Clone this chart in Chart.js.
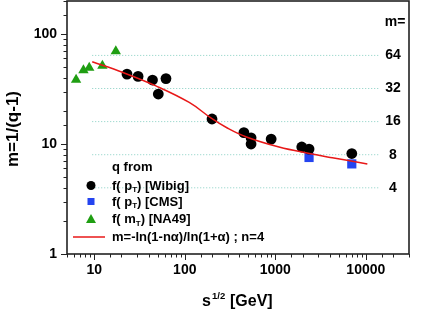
<!DOCTYPE html>
<html>
<head>
<meta charset="utf-8">
<script src="https://cdn.jsdelivr.net/npm/chart.js@4.4.1/dist/chart.umd.min.js"></script>
<style>
  html, body { margin: 0; padding: 0; background: #fff; }
  #wrap { width: 436px; height: 326px; }
</style>
</head>
<body>
<div id="wrap"><canvas id="chart" width="436" height="326"></canvas></div>
<script>
// sqrt(s) in GeV, m = 1/(q-1)
const wibigX = [23, 30.5, 44, 51, 62, 200, 450, 540, 540, 900, 1960, 2360, 7000];
const wibigM = [43.3, 41.2, 38.2, 28.5, 39.4, 16.9, 12.7, 11.4, 10.0, 11.1, 9.4, 9.0, 8.2];
const cmsX = [2360, 7000];
const cmsM = [7.55, 6.6];
const na49X = [6.3, 7.6, 8.8, 12.3, 17.3];
const na49M = [38.5, 47, 49.5, 51.5, 70];
// fitted curve
const curveX = [9.5, 20.4, 48, 112, 196, 295, 480, 1100, 2380, 4270, 10400];
const curveM = [56, 45, 33.8, 23.9, 17.2, 14.0, 11.6, 9.4, 8.2, 7.5, 6.6];
// m levels marked on the right
const mLevels = [4, 8, 16, 32, 64];
const guideRange = [9.5, 14000];
const xTickLabels = [10, 100, 1000, 10000];
const yTickLabels = [1, 10, 100];

const pts = (xs, ys) => xs.map((x, i) => ({ x: x, y: ys[i] }));
const FONT = '"Liberation Sans", Arial, sans-serif';

const guideSets = mLevels.map(m => ({
  data: pts(guideRange, [m, m]),
  showLine: true,
  borderColor: '#86cfc2',
  borderWidth: 1,
  borderDash: [1, 2],
  pointRadius: 0,
  order: 5
}));

const noPad = s => { s.paddingTop = 0; s.paddingBottom = 0; s.paddingLeft = 0; s.paddingRight = 0; };

const extras = {
  id: 'extras',
  afterDraw(chart) {
    const ctx = chart.ctx;
    const a = chart.chartArea;
    const xs = chart.scales.x, ys = chart.scales.y;
    ctx.save();
    // frame
    ctx.strokeStyle = '#222';
    ctx.lineWidth = 1.6;
    ctx.strokeRect(a.left, a.top, a.right - a.left, a.bottom - a.top);
    // ticks, pointing out
    ctx.lineWidth = 1;
    ctx.beginPath();
    xs.ticks.forEach(t => {
      const px = Math.round(xs.getPixelForValue(t.value)) + 0.5;
      const len = xTickLabels.includes(t.value) ? 6 : 3.5;
      ctx.moveTo(px, a.bottom);
      ctx.lineTo(px, a.bottom + len);
    });
    ys.ticks.forEach(t => {
      const py = Math.round(ys.getPixelForValue(t.value)) + 0.5;
      const len = yTickLabels.includes(t.value) ? 6 : 3.5;
      ctx.moveTo(a.left, py);
      ctx.lineTo(a.left - len, py);
    });
    ctx.stroke();

    // right m= labels
    ctx.fillStyle = '#000';
    ctx.font = 'bold 14px ' + FONT;
    ctx.textAlign = 'center';
    ctx.textBaseline = 'middle';
    mLevels.forEach(m => ctx.fillText(String(m), 393, ys.getPixelForValue(m)));
    ctx.fillText('m=', 395, ys.getPixelForValue(128));

    // legend
    const lx = 112;
    ctx.textAlign = 'left';
    ctx.font = 'bold 13px ' + FONT;
    ctx.fillText('q from', lx, 167);
    const subText = (y, pre, sub, post) => {
      ctx.font = 'bold 13px ' + FONT;
      ctx.fillText(pre, lx, y);
      let w = ctx.measureText(pre).width;
      ctx.font = 'bold 8px ' + FONT;
      ctx.fillText(sub, lx + w, y + 4);
      w += ctx.measureText(sub).width;
      ctx.font = 'bold 13px ' + FONT;
      ctx.fillText(post, lx + w, y);
    };
    subText(186, 'f( p', 'T', ') [Wibig]');
    subText(202, 'f( p', 'T', ') [CMS]');
    subText(219.5, 'f( m', 'T', ') [NA49]');
    ctx.font = 'bold 13px ' + FONT;
    ctx.fillText('m=-ln(1-n\u03b1)/ln(1+\u03b1) ; n=4', lx, 237);
    // legend symbols
    ctx.fillStyle = '#000';
    ctx.beginPath(); ctx.arc(91, 185.5, 4.5, 0, Math.PI * 2); ctx.fill();
    ctx.fillStyle = '#2444f0';
    ctx.fillRect(87.5, 198, 7, 7);
    ctx.fillStyle = '#1f9e12';
    ctx.beginPath();
    ctx.moveTo(91, 214); ctx.lineTo(96, 223); ctx.lineTo(86, 223); ctx.closePath(); ctx.fill();
    ctx.strokeStyle = '#e81818';
    ctx.lineWidth = 1.5;
    ctx.beginPath(); ctx.moveTo(73, 237); ctx.lineTo(105, 237); ctx.stroke();

    // axis titles
    ctx.fillStyle = '#000';
    ctx.textBaseline = 'alphabetic';
    ctx.font = 'bold 16px ' + FONT;
    ctx.fillText('s', 202, 306);
    ctx.font = 'bold 9.5px ' + FONT;
    ctx.fillText('1/2', 212, 299);
    ctx.font = 'bold 16px ' + FONT;
    ctx.fillText('[GeV]', 230, 306);

    ctx.translate(13, 129);
    ctx.rotate(-Math.PI / 2);
    ctx.textAlign = 'center';
    ctx.textBaseline = 'middle';
    ctx.font = 'bold 17px ' + FONT;
    ctx.fillText('m=1/(q-1)', 0, 0);
    ctx.restore();
  }
};

new Chart(document.getElementById('chart').getContext('2d'), {
  type: 'scatter',
  data: {
    datasets: guideSets.concat([
      {
        data: pts(cmsX, cmsM),
        pointStyle: 'rect',
        pointRadius: 6.5,
        pointBorderWidth: 0,
        backgroundColor: '#2444f0',
        borderColor: '#2444f0',
        order: 4
      },
      {
        data: pts(wibigX, wibigM),
        pointStyle: 'circle',
        pointRadius: 5.4,
        pointBorderWidth: 0,
        backgroundColor: '#000',
        borderColor: '#000',
        order: 3
      },
      {
        data: pts(na49X, na49M),
        pointStyle: 'triangle',
        pointRadius: 6,
        pointBorderWidth: 0,
        backgroundColor: '#1f9e12',
        borderColor: '#1f9e12',
        order: 2
      },
      {
        data: pts(curveX, curveM),
        showLine: true,
        tension: 0.4,
        borderColor: '#e81818',
        borderWidth: 1.5,
        pointRadius: 0,
        order: 1
      }
    ])
  },
  options: {
    responsive: false,
    animation: false,
    layout: { autoPadding: false, padding: { top: 1, right: 27, left: 0, bottom: 0 } },
    plugins: { legend: { display: false }, tooltip: { enabled: false } },
    scales: {
      x: {
        type: 'logarithmic',
        min: 5,
        max: 30000,
        afterFit: s => { s.height = 72; noPad(s); },
        grid: { display: false, drawTicks: false },
        border: { display: false },
        ticks: {
          autoSkip: false,
          maxRotation: 0,
          padding: 8,
          color: '#000',
          font: { family: FONT, size: 14, weight: 'bold' },
          callback: v => xTickLabels.includes(v) ? String(v) : ''
        }
      },
      y: {
        type: 'logarithmic',
        min: 1,
        max: 200,
        afterFit: s => { s.width = 67; noPad(s); },
        grid: { display: false, drawTicks: false },
        border: { display: false },
        ticks: {
          autoSkip: false,
          padding: 10,
          color: '#000',
          font: { family: FONT, size: 14, weight: 'bold' },
          callback: v => yTickLabels.includes(v) ? String(v) : ''
        }
      }
    }
  },
  plugins: [extras]
});
</script>
</body>
</html>
